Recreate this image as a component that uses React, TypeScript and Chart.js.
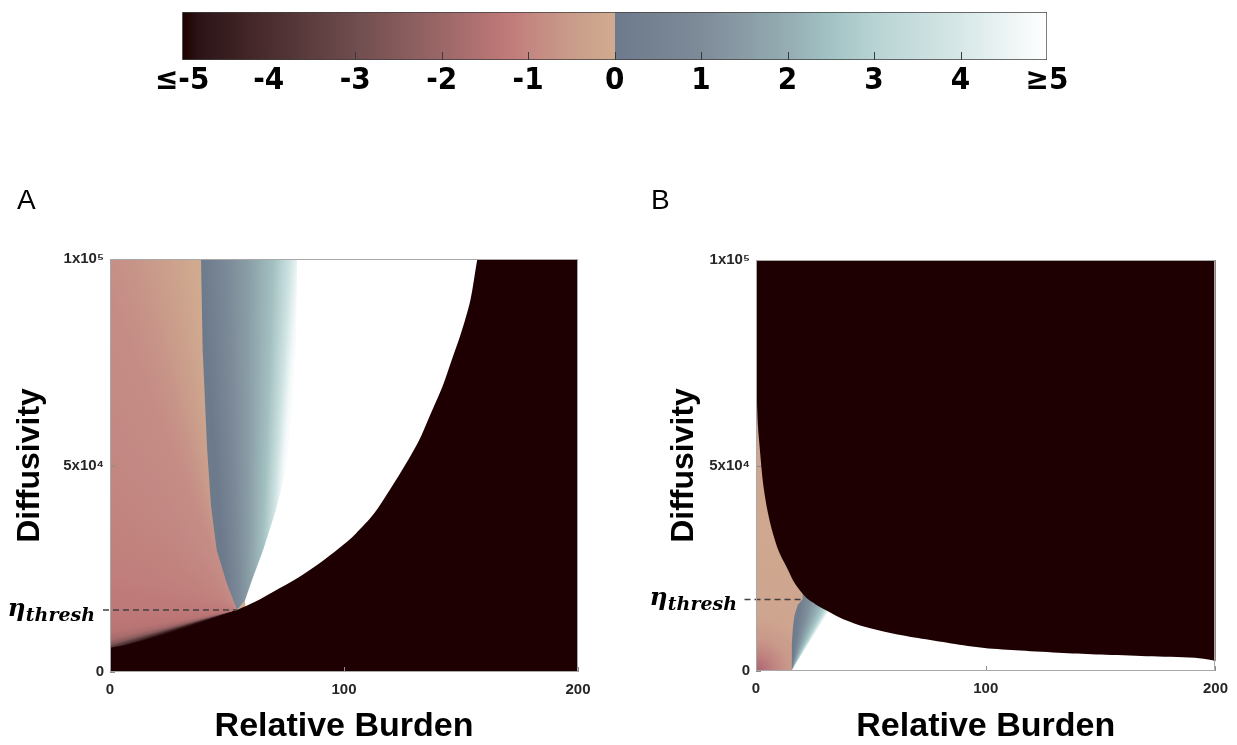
import React, { useEffect, useRef } from 'react';
import { Chart, registerables } from 'chart.js';

Chart.register(...registerables);

const FONT = "'Liberation Sans', Arial, Helvetica, sans-serif";
const NARROW = "'DejaVu Sans Condensed', 'Liberation Sans Narrow', 'Liberation Sans', Arial, sans-serif";
Chart.defaults.font.family = FONT;

// ---------- colour bar ----------
const colorbarTicks = [-5, -4, -3, -2, -1, 0, 1, 2, 3, 4, 5];
const colorbarTickLabels = ['≤-5', '-4', '-3', '-2', '-1', '0', '1', '2', '3', '4', '≥5'];
const negStopValues = [-5, -4.8, -4, -3, -2, -1.5, -1.2, -1, -0.5, 0];
const negStopColors = ['#1e0000', '#2c1416', '#4b2d2f', '#6f4d4e', '#9b6767', '#b47373', '#c17b7a', '#c48580', '#c99c8a', '#d1ab90'];
const posStopValues = [0, 1, 2, 2.5, 3, 4, 5];
const posStopColors = ['#6d7a8c', '#7e8b99', '#95adb3', '#a2c3c4', '#b8d3d3', '#d7e7e7', '#ffffff'];

// ---------- axes ----------
const xTickValues = [0, 100, 200];
const yTickValues = [0, 50000, 100000];
const yTickLabels = ['0', '5x10⁴', '1x10⁵'];

// ---------- panel A regions (Relative Burden, Diffusivity) ----------
const aBlackX = [-10, 0, 8, 16, 24.4, 32, 40, 47, 54.3, 62, 70, 80, 89.7, 98, 105, 113, 120, 126, 132, 137, 142, 146, 150, 154, 157, 160, 230, 230, -10];
const aBlackY = [4800, 5800, 6700, 7900, 9300, 10600, 12000, 13400, 15000, 17000, 19500, 22700, 26400, 30000, 33500, 38500, 44500, 50000, 56000, 62500, 69000, 75500, 82000, 90000, 100000, 108000, 108000, -10000, -10000];
// blue fan: left edge (top -> threshold) then right edge (threshold -> top)
const aBlueX = [38.9, 39.6, 41.5, 43.2, 45.6, 49.9, 54.3, 57.7, 60.7, 65.4, 70.9, 75.2, 77.8, 79.5, 80];
const aBlueY = [100000, 78000, 54000, 40000, 29500, 21500, 15000, 17400, 22300, 29500, 39200, 48900, 61000, 80400, 100000];
const aPinkX = [0, 0, 45, 58, 58];
const aPinkY = [0, 100000, 100000, 15000, 0];
const aThreshX = [-3, 54.3];
const aThreshY = [15000, 15000];

// ---------- panel B regions ----------
const bBlackX = [-3, 0, 0.3, 0.8, 1.7, 3, 5, 7.3, 10, 13.3, 17, 21.9, 26, 30.5, 38, 47.7, 58, 70.5, 85, 99.4, 115, 133.8, 150, 170, 191, 198.7, 203, 230, 230, -3];
const bBlackY = [110000, 75000, 68000, 60000, 53800, 46000, 39000, 33600, 29000, 25300, 21200, 17800, 16200, 14800, 12600, 10700, 9300, 8000, 6700, 5600, 5000, 4400, 4000, 3600, 3200, 2600, 2000, 2000, 120000, 120000];
const bBlueX = [15.4, 15.6, 16.1, 16.8, 18.2, 20.3, 20.3, 60, 60];
const bBlueY = [0, 6700, 10800, 13600, 16100, 17400, 30000, 30000, 0];
const bPinkX = [0, 17, 18.5, 21.5, 21.5, 0];
const bPinkY = [0, 0, 15000, 17500, 100000, 100000];
const bThreshX = [-5, 20.3];
const bThreshY = [17400, 17400];

const BLACK = '#1f0002';

const pts = (xs: number[], ys: number[]) => xs.map((x, i) => ({ x, y: ys[i] }));

// gradient definitions (angles in degrees, clockwise from +x)
const pinkAStops: [number, string][] = [
  [160, '#1f0002'], [162, '#2c0e10'], [163.5, '#563638'], [165, '#875a5b'], [167, '#a86b6c'],
  [170, '#b87373'], [176, '#bd7777'], [185, '#be7979'], [200, '#c07f7c'], [220, '#c2847f'],
  [235, '#c38883'], [248, '#c58c85'], [253, '#c79388'], [257, '#ca9c8a'], [260.5, '#cda48d'],
  [263, '#d0aa8f'], [270, '#d1ab90'],
];
const blueAStops: [number, string][] = [
  [265.5, '#6d7a8c'], [267.8, '#7b8897'], [269.9, '#8a9ea6'], [272.1, '#a3c0c1'],
  [273.6, '#cfe3e3'], [274.4, '#f2f8f8'], [275, '#ffffff'],
];
const blueBStops: [number, string][] = [
  [270, '#6b798c'], [278, '#717f90'], [285, '#7f909c'], [292, '#93adb3'], [297, '#aacbcb'],
  [300, '#d2e6e6'], [302, '#ffffff'],
];
const pinkBStops: [number, string][] = [
  [0, '#a9646d'], [8, '#b5717a'], [18, '#c08480'], [32, '#c9988a'], [55, '#cea58f'], [140, '#cfa88f'], [330, '#cca18d'],
];

function conic(chart: any, cx: number, cy: number, stops: [number, string][]) {
  if (!chart.chartArea) return 'rgba(0,0,0,0)';
  const px = chart.scales.x.getPixelForValue(cx);
  const py = chart.scales.y.getPixelForValue(cy);
  const g = chart.ctx.createConicGradient(Math.PI / 2, px, py);
  for (const [deg, c] of stops) g.addColorStop((((deg - 90) % 360) + 360) % 360 / 360, c);
  return g;
}

function radial(chart: any, cx: number, cy: number, stops: [number, string][]) {
  if (!chart.chartArea) return 'rgba(0,0,0,0)';
  const px = chart.scales.x.getPixelForValue(cx);
  const py = chart.scales.y.getPixelForValue(cy);
  const R = stops[stops.length - 1][0];
  const g = chart.ctx.createRadialGradient(px, py, 0, px, py, R);
  for (const [r, c] of stops) g.addColorStop(r / R, c);
  return g;
}

const region = (data: any[], bg: any, tension = 0) => ({
  data,
  showLine: true,
  borderColor: 'rgba(0,0,0,0)',
  borderWidth: 0,
  pointRadius: 0,
  tension,
  capBezierPoints: false,
  fill: 'shape',
  backgroundColor: bg,
});

function panelDecor(threshY: number, labelGap: number) {
  return {
    id: 'panelDecor',
    afterDatasetsDraw(chart: any) {
      const { ctx, chartArea: a, scales } = chart;
      const x = scales.x, y = scales.y;
      ctx.save();
      ctx.strokeStyle = '#8c8c8c';
      ctx.lineWidth = 1;
      for (const v of xTickValues) {
        const px = Math.round(x.getPixelForValue(v)) + 0.5;
        ctx.beginPath(); ctx.moveTo(px, a.bottom); ctx.lineTo(px, a.bottom - 5); ctx.stroke();
      }
      for (const v of yTickValues) {
        const py = Math.round(y.getPixelForValue(v)) + 0.5;
        ctx.beginPath(); ctx.moveTo(a.left, py); ctx.lineTo(a.left + 5, py); ctx.stroke();
      }
      ctx.strokeStyle = '#a8a8a8';
      ctx.strokeRect(Math.round(a.left) + 0.5, Math.round(a.top) + 0.5, Math.round(a.right - a.left) - 1, Math.round(a.bottom - a.top) - 1);
      ctx.restore();
    },
    afterDraw(chart: any) {
      const { ctx, chartArea: a, scales } = chart;
      const py = scales.y.getPixelForValue(threshY);
      const right = a.left - labelGap;
      ctx.save();
      ctx.fillStyle = '#000';
      ctx.textBaseline = 'alphabetic';
      ctx.textAlign = 'left';
      ctx.font = "bold italic 19px 'DejaVu Serif', serif";
      const subW = ctx.measureText('thresh').width;
      ctx.fillText('thresh', right - subW, py + 10.5);
      ctx.font = "bold italic 25px 'DejaVu Serif', serif";
      const etaW = ctx.measureText('η').width;
      ctx.fillText('η', right - subW - etaW, py + 5.6);
      ctx.restore();
    },
  };
}

function panelConfig(p: any) {
  return {
    type: 'scatter',
    data: {
      datasets: [
        {
          data: p.thresh, showLine: true, borderColor: '#404040', borderWidth: 1.5,
          borderDash: [6, 4], pointRadius: 0, fill: false, clip: false,
        },
        region(p.black, BLACK, 0.3),
        region(p.blue, p.blueBg),
        region(p.pink, p.pinkBg),
      ],
    },
    options: {
      responsive: false,
      animation: false,
      events: [],
      layout: { padding: p.padding },
      plugins: { legend: { display: false }, tooltip: { enabled: false } },
      scales: {
        x: {
          type: 'linear', min: 0, max: 200,
          afterBuildTicks: (s: any) => { s.ticks = xTickValues.map((v) => ({ value: v })); },
          grid: { display: false, drawTicks: false },
          border: { display: false },
          ticks: { padding: 9, color: '#262626', autoSkip: false, maxRotation: 0, font: { family: FONT, size: 15, weight: 'bold' } },
          title: {
            display: true, text: 'Relative Burden', color: '#000',
            font: { family: FONT, size: 34, weight: 'bold', lineHeight: 1 },
            padding: { top: 0, bottom: 1 },
          },
          afterFit: (s: any) => { s.height = p.xAxisHeight; },
        },
        y: {
          type: 'linear', min: 0, max: 100000,
          afterBuildTicks: (s: any) => { s.ticks = yTickValues.map((v) => ({ value: v })); },
          grid: { display: false, drawTicks: false },
          border: { display: false },
          ticks: {
            padding: 6, color: '#262626', autoSkip: false,
            font: { family: FONT, size: 15, weight: 'bold' },
            callback: (v: number) => yTickLabels[yTickValues.indexOf(v)] ?? '',
          },
          title: {
            display: true, text: 'Diffusivity', color: '#000',
            font: { family: FONT, size: 32, weight: 'bold', lineHeight: 1 },
            padding: { top: p.yTitlePad, bottom: 0 },
          },
          afterFit: (s: any) => { s.width = p.yAxisWidth; },
        },
      },
    },
    plugins: [panelDecor(p.thresh[1].y, p.labelGap)],
  };
}

const configA = () => panelConfig({
  thresh: pts(aThreshX, aThreshY),
  black: pts(aBlackX, aBlackY),
  blue: pts(aBlueX, aBlueY),
  pink: pts(aPinkX, aPinkY),
  blueBg: (c: any) => conic(c.chart, 59.8, -55200, blueAStops),
  pinkBg: (c: any) => conic(c.chart, aThreshX[1], aThreshY[1], pinkAStops),
  padding: { left: 0, top: 89, right: 42, bottom: 0 },
  xAxisHeight: 73,
  yAxisWidth: 110,
  yTitlePad: 14,
  labelGap: 15,
});

const configB = () => panelConfig({
  thresh: pts(bThreshX, bThreshY),
  black: pts(bBlackX, bBlackY),
  blue: pts(bBlueX, bBlueY),
  pink: pts(bPinkX, bPinkY),
  blueBg: (c: any) => conic(c.chart, 15.5, 0, blueBStops),
  pinkBg: (c: any) => radial(c.chart, 0, 0, pinkBStops),
  padding: { left: 0, top: 90, right: 16, bottom: 0 },
  xAxisHeight: 74,
  yAxisWidth: 136,
  yTitlePad: 48,
  labelGap: 19,
});

const colorbarTickPlugin = {
  id: 'cbTicks',
  afterDatasetsDraw(chart: any) {
    const { ctx, chartArea: a, scales } = chart;
    ctx.save();
    ctx.strokeStyle = '#3a3a3a';
    ctx.lineWidth = 1;
    for (const v of colorbarTicks.slice(1, -1)) {
      const px = Math.round(scales.x.getPixelForValue(v)) + 0.5;
      ctx.beginPath(); ctx.moveTo(px, a.bottom); ctx.lineTo(px, a.bottom - 8); ctx.stroke();
    }
    ctx.restore();
  },
};

const configColorbar = () => ({
  type: 'bar',
  data: {
    labels: [''],
    datasets: [{
      data: [[colorbarTicks[0], colorbarTicks[colorbarTicks.length - 1]]],
      backgroundColor: (c: any) => {
        const chart = c.chart;
        if (!chart.chartArea) return 'rgba(0,0,0,0)';
        const x = chart.scales.x;
        const x0 = x.getPixelForValue(-5), x1 = x.getPixelForValue(5);
        const g = chart.ctx.createLinearGradient(x0, 0, x1, 0);
        negStopValues.forEach((v, i) => g.addColorStop((v + 5) / 10, negStopColors[i]));
        posStopValues.forEach((v, i) => g.addColorStop((v + 5) / 10, posStopColors[i]));
        return g;
      },
      borderColor: '#404040',
      borderWidth: 1,
      borderSkipped: false,
      categoryPercentage: 1,
      barPercentage: 1,
    }],
  },
  options: {
    indexAxis: 'y',
    responsive: false,
    animation: false,
    events: [],
    layout: { padding: { left: 31, top: 12, right: 33, bottom: 0 } },
    plugins: { legend: { display: false }, tooltip: { enabled: false } },
    scales: {
      x: {
        type: 'linear', min: -5, max: 5,
        afterBuildTicks: (s: any) => { s.ticks = colorbarTicks.map((v) => ({ value: v })); },
        grid: { display: false, drawTicks: false },
        border: { display: false },
        ticks: {
          padding: 5, color: '#000', autoSkip: false, maxRotation: 0,
          font: { family: NARROW, size: 31, weight: 'bold', lineHeight: 1 },
          callback: (v: number) => colorbarTickLabels[colorbarTicks.indexOf(v)] ?? '',
        },
        afterFit: (s: any) => { s.height = 50; },
      },
      y: { display: false },
    },
  },
  plugins: [colorbarTickPlugin],
});

function ChartCanvas({ make, left, top, width, height }: any) {
  const ref = useRef<HTMLCanvasElement>(null);
  useEffect(() => {
    const chart = new Chart(ref.current as HTMLCanvasElement, make());
    return () => chart.destroy();
  }, []);
  return (
    <canvas
      ref={ref}
      width={width}
      height={height}
      style={{ position: 'absolute', left, top, width, height }}
    />
  );
}

const labelStyle: React.CSSProperties = {
  position: 'absolute',
  fontFamily: FONT,
  fontSize: 28,
  lineHeight: '28px',
  color: '#000',
};

export default function App() {
  return (
    <div style={{ position: 'absolute', left: 0, top: 0, width: 1237, height: 745, background: '#fff', overflow: 'hidden' }}>
      <ChartCanvas make={configColorbar} left={150} top={0} width={930} height={110} />
      <ChartCanvas make={configA} left={0} top={170} width={620} height={575} />
      <ChartCanvas make={configB} left={620} top={170} width={617} height={575} />
      <div style={{ ...labelStyle, left: 17, top: 186 }}>A</div>
      <div style={{ ...labelStyle, left: 651, top: 186 }}>B</div>
    </div>
  );
}
